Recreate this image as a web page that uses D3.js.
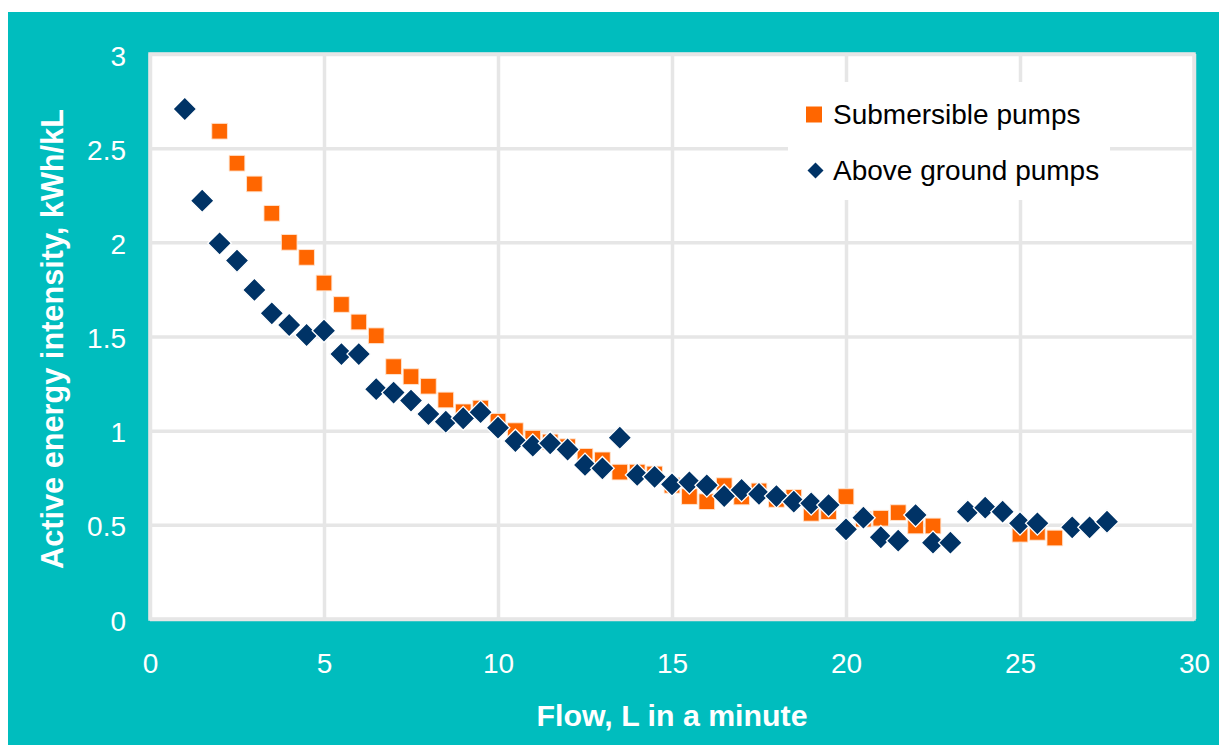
<!DOCTYPE html>
<html>
<head>
<meta charset="utf-8">
<script src="https://cdn.jsdelivr.net/npm/d3@7"></script>
<style>
  html, body { margin: 0; padding: 0; background: #ffffff; }
  svg { display: block; font-family: "Liberation Sans", Arial, sans-serif; }
</style>
</head>
<body>
<svg id="chart" width="1219" height="745"></svg>
<script>
// ---- data ----
const subFlow = [2, 2.5, 3, 3.5, 4, 4.5, 5, 5.5, 6, 6.5, 7, 7.5, 8, 8.5, 9, 9.5, 10, 10.5, 11, 11.5, 12, 12.5, 13, 13.5, 14, 14.5, 15, 15.5, 16, 16.5, 17, 17.5, 18, 18.5, 19, 19.5, 20, 20.5, 21, 21.5, 22, 22.5, 25, 25.5, 26];
const subIntensity = [2.59, 2.42, 2.31, 2.154, 2.0, 1.92, 1.784, 1.67, 1.577, 1.504, 1.34, 1.287, 1.236, 1.163, 1.10, 1.12, 1.05, 1.00, 0.96, 0.94, 0.915, 0.864, 0.845, 0.78, 0.78, 0.77, 0.71, 0.65, 0.623, 0.708, 0.648, 0.68, 0.635, 0.646, 0.561, 0.57, 0.65, 0.53, 0.535, 0.565, 0.494, 0.494, 0.45, 0.46, 0.43];

const aboveFlow = [1, 1.5, 2, 2.5, 3, 3.5, 4, 4.5, 5, 5.5, 6, 6.5, 7, 7.5, 8, 8.5, 9, 9.5, 10, 10.5, 11, 11.5, 12, 12.5, 13, 13.5, 14, 14.5, 15, 15.5, 16, 16.5, 17, 17.5, 18, 18.5, 19, 19.5, 20, 20.5, 21, 21.5, 22, 22.5, 23, 23.5, 24, 24.5, 25, 25.5, 26.5, 27, 27.5];
const aboveIntensity = [2.708, 2.221, 1.995, 1.903, 1.747, 1.623, 1.561, 1.508, 1.531, 1.407, 1.407, 1.220, 1.202, 1.16, 1.088, 1.048, 1.066, 1.098, 1.016, 0.945, 0.92, 0.933, 0.90, 0.818, 0.80, 0.963, 0.765, 0.755, 0.715, 0.726, 0.71, 0.653, 0.685, 0.664, 0.653, 0.623, 0.614, 0.605, 0.476, 0.538, 0.434, 0.416, 0.552, 0.405, 0.405, 0.57, 0.591, 0.57, 0.508, 0.508, 0.487, 0.487, 0.517];

const xTicks = [0, 5, 10, 15, 20, 25, 30];
const yTicks = [0, 0.5, 1, 1.5, 2, 2.5, 3];
const seriesNames = ["Submersible pumps", "Above ground pumps"];
const xTitle = "Flow, L in a minute";
const yTitle = "Active energy intensity, kWh/kL";

// ---- layout ----
const svg = d3.select("#chart");
const teal = "#00BDBE";
const orange = "#FF6600";
const navy = "#003366";
const gridColor = "#e6e6e6";

const x = d3.scaleLinear().domain([0, 30]).range([150, 1194]);
const y = d3.scaleLinear().domain([0, 3]).range([619, 54]);

// background
svg.append("rect").attr("x", 8).attr("y", 12).attr("width", 1211).attr("height", 733).attr("fill", teal);

// plot area
svg.append("rect")
  .attr("x", x(0)).attr("y", y(3))
  .attr("width", x(30) - x(0)).attr("height", y(0) - y(3))
  .attr("fill", "#ffffff");

// gridlines
const gx = svg.append("g").attr("transform", `translate(0,${y(0)})`)
  .call(d3.axisBottom(x).tickValues(xTicks).tickSize(-(y(0) - y(3))).tickFormat(""));
gx.select(".domain").remove();
gx.selectAll("line").attr("stroke", gridColor).attr("stroke-width", 3.5);

const gy = svg.append("g").attr("transform", `translate(${x(0)},0)`)
  .call(d3.axisLeft(y).tickValues(yTicks).tickSize(-(x(30) - x(0))).tickFormat(""));
gy.select(".domain").remove();
gy.selectAll("line").attr("stroke", gridColor).attr("stroke-width", 3.5);

// frame
svg.append("rect")
  .attr("x", x(0)).attr("y", y(3))
  .attr("width", x(30) - x(0)).attr("height", y(0) - y(3))
  .attr("fill", "none").attr("stroke", gridColor).attr("stroke-width", 3.5);

// axis labels
const ax = svg.append("g").attr("transform", `translate(0,${y(0)})`)
  .call(d3.axisBottom(x).tickValues(xTicks).tickSize(0).tickPadding(0).tickFormat(d => String(d)));
ax.select(".domain").remove();
ax.selectAll("text")
  .attr("y", 54).attr("dy", null)
  .attr("fill", "#ffffff").attr("font-size", 28)
  .attr("font-family", "'Liberation Sans', Arial, sans-serif");

const ay = svg.append("g").attr("transform", `translate(126,0)`)
  .call(d3.axisLeft(y).tickValues(yTicks).tickSize(0).tickPadding(0).tickFormat(d => String(d)));
ay.select(".domain").remove();
ay.selectAll("text")
  .attr("x", 0).attr("dy", null).attr("y", 11)
  .attr("text-anchor", "end")
  .attr("fill", "#ffffff").attr("font-size", 28)
  .attr("font-family", "'Liberation Sans', Arial, sans-serif");

// axis titles
svg.append("text")
  .attr("x", (x(0) + x(30)) / 2).attr("y", 726)
  .attr("text-anchor", "middle")
  .attr("fill", "#ffffff").attr("font-size", 30.3).attr("font-weight", "bold")
  .text(xTitle);

svg.append("text")
  .attr("transform", `translate(63,339) rotate(-90)`)
  .attr("text-anchor", "middle")
  .attr("fill", "#ffffff").attr("font-size", 30.7).attr("font-weight", "bold")
  .text(yTitle);

// legend box
svg.append("rect").attr("x", 788).attr("y", 82).attr("width", 322).attr("height", 118).attr("fill", "#ffffff");

// markers
const squareSym = d3.symbol().type(d3.symbolSquare).size(15.7 * 15.7);
const diamondSym = d3.symbol().type(d3.symbolSquare).size(16.7 * 16.7);

const subData = subFlow.map((f, i) => ({ f, v: subIntensity[i] }));
const aboveData = aboveFlow.map((f, i) => ({ f, v: aboveIntensity[i] }));

svg.append("g").selectAll("path").data(subData).join("path")
  .attr("d", squareSym)
  .attr("transform", d => `translate(${x(d.f)},${y(d.v)})`)
  .attr("fill", orange)
  .attr("stroke", "rgba(255,230,210,0.9)").attr("stroke-width", 1);

svg.append("g").selectAll("path").data(aboveData).join("path")
  .attr("d", diamondSym)
  .attr("transform", d => `translate(${x(d.f)},${y(d.v)}) rotate(45)`)
  .attr("fill", navy)
  .attr("stroke", "#ffffff").attr("stroke-width", 1.3);

// legend items
const leg = svg.append("g");
leg.append("path").attr("d", d3.symbol().type(d3.symbolSquare).size(16 * 16))
  .attr("transform", "translate(814,114.5)").attr("fill", orange);
leg.append("path").attr("d", d3.symbol().type(d3.symbolSquare).size(11.3 * 11.3))
  .attr("transform", "translate(815.5,170.5) rotate(45)").attr("fill", navy);
leg.append("text").attr("x", 833).attr("y", 124.3)
  .attr("font-size", 28).attr("fill", "#000000").text(seriesNames[0]);
leg.append("text").attr("x", 833).attr("y", 180)
  .attr("font-size", 28).attr("fill", "#000000").text(seriesNames[1]);
</script>
</body>
</html>
